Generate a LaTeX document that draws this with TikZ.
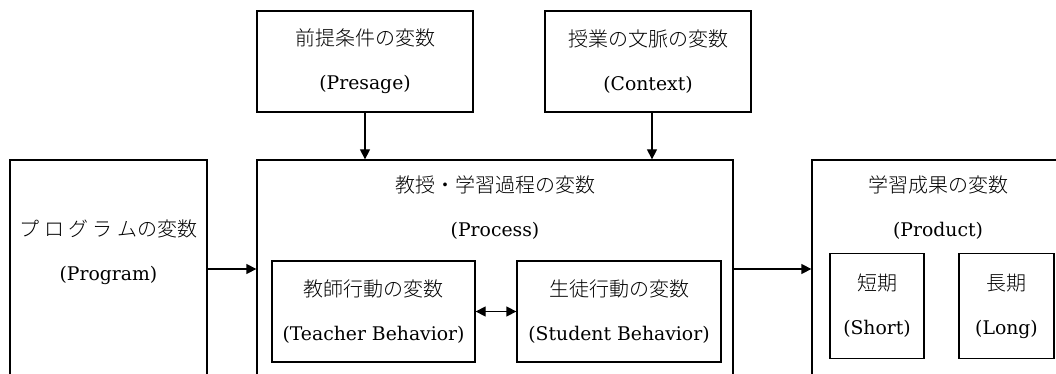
\documentclass[tikz,border=0pt]{standalone}
\usepackage{fontspec}
\newfontfamily\jp{Noto Sans CJK JP}[UprightFont={* Light}]
\newfontfamily\lt{DejaVu Serif}
\newcommand\latn[1]{{\lt\fontsize{18.8}{44}\selectfont #1}}
\usetikzlibrary{arrows.meta}
\begin{document}
\begin{tikzpicture}[x=1pt,y=-1pt,
  box/.style={draw,line width=1.3pt,inner sep=0pt,align=center,font=\fontsize{20}{44}\selectfont},
  lbl/.style={inner sep=0pt,align=center,font=\fontsize{20}{44}\selectfont},
  arr/.style={line width=1.3pt,-{Triangle[length=10pt,width=10pt]}},
  darr/.style={line width=1.3pt,{Triangle[length=10pt,width=10pt]}-{Triangle[length=10pt,width=10pt]}}]
\useasboundingbox (0,0) rectangle (1056,374);
\clip (0,0) rectangle (1056,374);
% outer boxes
\node[box,minimum width=197pt,minimum height=230pt] (program) at (108.5,275) {};
\node[box,minimum width=476pt,minimum height=230pt] (process) at (495,275) {};
\node[box,minimum width=270pt,minimum height=230pt] (product) at (947,275) {};
\node[box,minimum width=216pt,minimum height=101pt] (presage) at (365,61.5) {{\jp 前提条件の変数}\\\latn{(Presage)}};
\node[box,minimum width=206pt,minimum height=101pt] (context) at (648,61.5) {{\jp 授業の文脈の変数}\\\latn{(Context)}};
% labels
\node[lbl] (programlbl) at (108.5,252) {{\jp プ ロ グ ラ ムの変数}\\\latn{(Program)}};
\node[lbl] (processlbl) at (495,208) {{\jp 教授・学習過程の変数}\\\latn{(Process)}};
\node[lbl] (productlbl) at (938,208) {{\jp 学習成果の変数}\\\latn{(Product)}};
% inner boxes
\node[box,minimum width=203pt,minimum height=101pt] (teacher) at (373.5,311.5) {{\jp 教師行動の変数}\\\latn{(Teacher Behavior)}};
\node[box,minimum width=204pt,minimum height=101pt] (student) at (619,311.5) {{\jp 生徒行動の変数}\\\latn{(Student Behavior)}};
\node[box,minimum width=94pt,minimum height=105pt] (short) at (877,306) {{\jp 短期}\\\latn{(Short)}};
\node[box,minimum width=95pt,minimum height=105pt] (long) at (1006.5,306) {{\jp 長期}\\\latn{(Long)}};
% connectors
\coordinate (ya) at (0,269);
\draw[arr] (presage.south) -- (presage.south |- process.north);
\draw[arr] ([xshift=4pt]context.south) -- ([xshift=4pt]context.south |- process.north);
\draw[arr] (program.east |- ya) -- (process.west |- ya);
\draw[arr] (process.east |- ya) -- (product.west |- ya);
\draw[darr] (teacher.east) -- (student.west);
\end{tikzpicture}
\end{document}
